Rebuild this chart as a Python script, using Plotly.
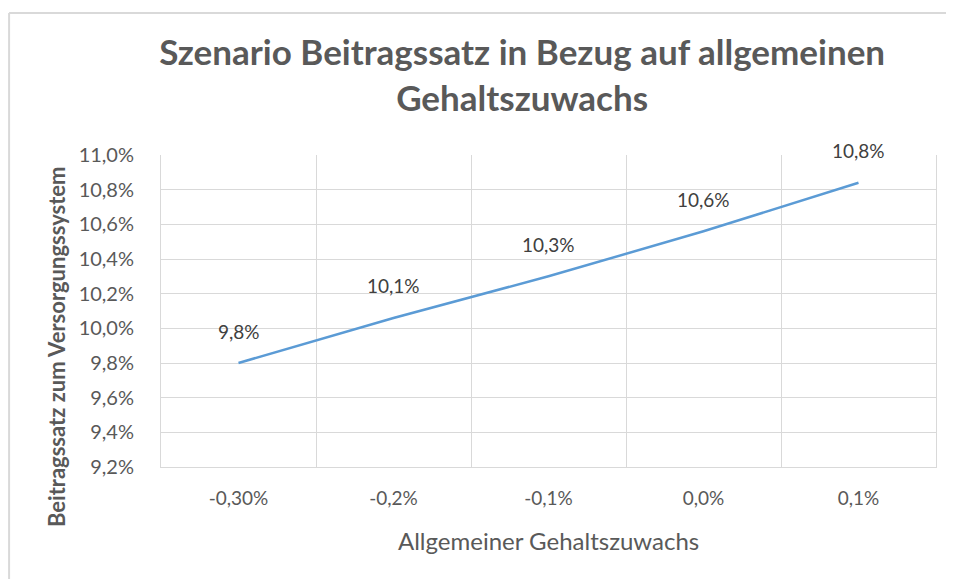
import plotly.graph_objects as go

# Daten
gehaltszuwachs = ["-0,30%", "-0,2%", "-0,1%", "0,0%", "0,1%"]
beitragssatz = [9.80, 10.06, 10.30, 10.56, 10.84]
y_ticks = [9.2, 9.4, 9.6, 9.8, 10.0, 10.2, 10.4, 10.6, 10.8, 11.0]

x_pos = list(range(len(gehaltszuwachs)))
grid_pos = [i - 0.5 for i in range(len(gehaltszuwachs) + 1)]
y_text = [f"{v:.1f}".replace(".", ",") + "%" for v in y_ticks]

grau = "#595959"
gitter = "#d9d9d9"
schrift = "Lato, Calibri, sans-serif"
W, H = 946, 571

fig = go.Figure()
fig.add_trace(go.Scatter(
    x=x_pos, y=beitragssatz,
    mode="lines",
    line=dict(color="#5b9bd5", width=2.5),
    hoverinfo="skip",
    showlegend=False,
))

# Datenbeschriftungen
for xi, v in zip(x_pos, beitragssatz):
    fig.add_annotation(
        x=xi, y=v, text=f"{v:.1f}".replace(".", ",") + "%",
        showarrow=False, yshift=32,
        font=dict(family=schrift, size=19, color="#404040"),
    )

fig.update_layout(
    width=W, height=H,
    margin=dict(l=153, r=18, t=147, b=112),
    paper_bgcolor="white", plot_bgcolor="white",
    font=dict(family=schrift, color=grau),
    title=dict(
        text="Szenario Beitragssatz in Bezug auf allgemeinen<br>Gehaltszuwachs",
        x=0.466, xref="paper", xanchor="center",
        y=1 - 57 / H, yref="container", yanchor="middle",
        font=dict(family=schrift, size=35, color=grau, weight="bold"),
    ),
    xaxis=dict(
        range=[-0.5, len(gehaltszuwachs) - 0.5],
        tickvals=x_pos, ticktext=gehaltszuwachs,
        showgrid=False, zeroline=False,
        showline=True, linecolor=gitter, linewidth=1,
        ticks="", ticklabelstandoff=14,
        tickfont=dict(size=19, color=grau),
        minor=dict(tickvals=grid_pos, showgrid=True, gridcolor=gitter, gridwidth=1),
    ),
    yaxis=dict(
        range=[9.2, 11.0],
        tickvals=y_ticks, ticktext=y_text,
        showgrid=True, gridcolor=gitter, gridwidth=1,
        zeroline=False,
        showline=True, linecolor=gitter, linewidth=1, mirror=True,
        ticks="", ticklabelstandoff=22,
        tickfont=dict(size=20, color=grau),
    ),
)

# Achsentitel
fig.add_annotation(
    text="Beitragssatz zum Versorgungssystem",
    xref="paper", yref="paper", x=-0.134, y=0.385,
    xanchor="center", yanchor="middle",
    textangle=-90, showarrow=False,
    font=dict(family=schrift, size=22, color=grau, weight="bold"),
)
fig.add_annotation(
    text="Allgemeiner Gehaltszuwachs",
    xref="paper", yref="paper", x=0.5, y=-0.234,
    xanchor="center", yanchor="middle",
    showarrow=False,
    font=dict(family=schrift, size=24, color=grau),
)

# Diagrammrahmen (links und oben)
fig.add_shape(type="line", xref="paper", yref="paper",
              x0=-0.196, y0=1.455, x1=1.03, y1=1.455,
              line=dict(color=gitter, width=2))
fig.add_shape(type="line", xref="paper", yref="paper",
              x0=-0.196, y0=1.455, x1=-0.196, y1=-0.37,
              line=dict(color=gitter, width=2))

fig.write_html("out.html")
